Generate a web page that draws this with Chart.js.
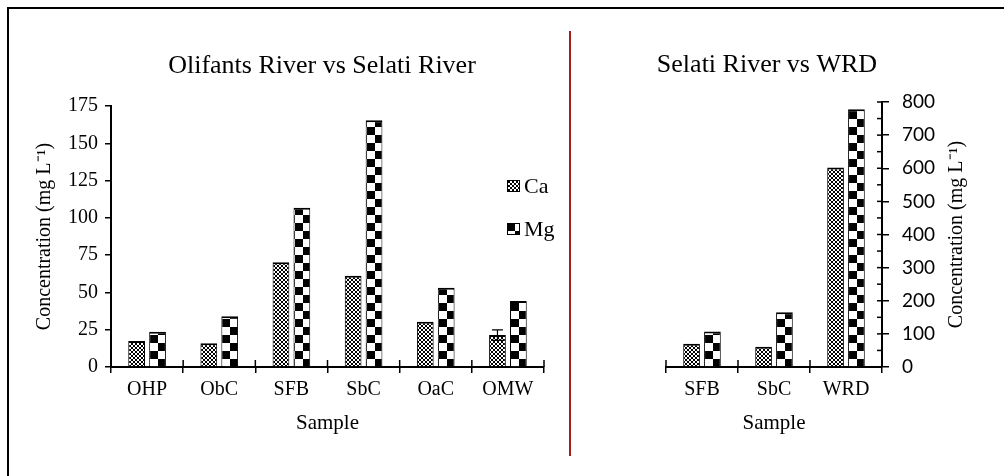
<!DOCTYPE html>
<html>
<head>
<meta charset="utf-8">
<script src="https://cdn.jsdelivr.net/npm/chart.js@4.4.1/dist/chart.umd.min.js"></script>
<style>
html,body{margin:0;padding:0;background:#fff;overflow:hidden}
#page{position:relative;width:1004px;height:476px;overflow:hidden;background:#fff}
#frame{position:absolute;left:7px;top:7px;width:1100px;height:600px;border-top:2px solid #000;border-left:2px solid #000}
#divider{position:absolute;left:569px;top:31px;width:2px;height:425px;background:#a31f1f}
#leftChart{position:absolute;left:0;top:0}
#rightChart{position:absolute;left:570px;top:0}
</style>
</head>
<body>
<div id="page">
<div id="frame"></div>
<canvas id="leftChart" width="570" height="476"></canvas>
<canvas id="rightChart" width="434" height="476"></canvas>
<div id="divider"></div>
</div>
<script>
const serif = "'Liberation Serif', 'Times New Roman', serif"
const sans = "Lato, 'Open Sans', sans-serif"

// left panel: Olifants River vs Selati River
const leftSamples = ["OHP", "ObC", "SFB", "SbC", "OaC", "OMW"]
const leftCa = [17.4, 16.0, 70.2, 61.2, 30.4, 21.4]
const leftMg = [23.6, 34.0, 106.8, 165.5, 53.2, 44.2]
const leftCaErr = [0, 0, 0, 0, 0, 3.5]
const leftMgErr = [0, 0, 0, 0, 0, 0]
const leftTicks = [0, 25, 50, 75, 100, 125, 150, 175]

// right panel: Selati River vs WRD
const rightSamples = ["SFB", "SbC", "WRD"]
const rightCa = [70.2, 61.2, 602]
const rightMg = [106.8, 165.5, 778]
const rightTicks = [0, 100, 200, 300, 400, 500, 600, 700, 800]
const rightMinorTicks = [50, 150, 250, 350, 450, 550, 650, 750]

const yTitle = "Concentration (mg L\u207B\u00B9)"

// fill patterns
function makeCaTile(){
let c = document.createElement("canvas")
c.width = 4
c.height = 4
let g = c.getContext("2d")
g.fillStyle = "#fff"
g.fillRect(0, 0, 4, 4)
g.fillStyle = "#000"
let dots = [[0,0],[1,1],[2,2],[3,3],[3,0],[2,1],[1,2],[0,3]]
dots.forEach(function(d){ g.fillRect(d[0], d[1], 1, 1) })
return c
}

function makeMgTile(){
let c = document.createElement("canvas")
c.width = 16
c.height = 16
let g = c.getContext("2d")
g.fillStyle = "#fff"
g.fillRect(0, 0, 16, 16)
g.fillStyle = "#000"
g.fillRect(0, 0, 8, 8)
g.fillRect(8, 8, 8, 8)
return c
}

const caTile = makeCaTile()
const mgTile = makeMgTile()

const catPct = 0.58
const barPct = 0.8

function caFill(context){
return context.chart.ctx.createPattern(caTile, "repeat")
}

function mgFill(context){
let chart = context.chart
let p = chart.ctx.createPattern(mgTile, "repeat")
let x = chart.scales.x
if(!x || context.dataIndex === undefined || !chart.chartArea) return p
let slot = (x.width / x.ticks.length) * catPct / 2
let left = x.getPixelForValue(context.dataIndex) + slot * (1 - barPct) / 2
p.setTransform(new DOMMatrix().translate(Math.round(left) + 1, chart.chartArea.bottom))
return p
}

const extras = {
id: "extras",
afterDatasetsDraw(chart, args, opts){
let ctx = chart.ctx
let y = chart.scales[opts.yId]
ctx.save()
ctx.strokeStyle = "#000"
ctx.lineWidth = 1.2
chart.data.datasets.forEach(function(ds, di){
if(!ds.errors) return
let meta = chart.getDatasetMeta(di)
ds.errors.forEach(function(err, i){
if(!err) return
let bx = meta.data[i].x
let y1 = y.getPixelForValue(ds.data[i] + err)
let y2 = y.getPixelForValue(ds.data[i] - err)
ctx.beginPath()
ctx.moveTo(bx, y1); ctx.lineTo(bx, y2)
ctx.moveTo(bx - 5.5, y1); ctx.lineTo(bx + 5.5, y1)
ctx.moveTo(bx - 5.5, y2); ctx.lineTo(bx + 5.5, y2)
ctx.stroke()
})
})
ctx.restore()
},
afterDraw(chart, args, opts){
let ctx = chart.ctx
let x = chart.scales.x
let area = chart.chartArea
ctx.save()
ctx.strokeStyle = "#000"
ctx.lineWidth = 1.5

// category boundary ticks also reach up into the plot
for(let i = 0; i <= x.ticks.length; i++){
let px = x.getPixelForValue(i - 0.5)
ctx.beginPath()
ctx.moveTo(px, area.bottom)
ctx.lineTo(px, area.bottom - 7)
ctx.stroke()
}

// inner ticks on the right hand axis
if(opts.innerTicks){
let y = chart.scales[opts.yId]
opts.innerTicks.forEach(function(v){
let py = y.getPixelForValue(v)
ctx.beginPath()
ctx.moveTo(area.right, py)
ctx.lineTo(area.right - 5, py)
ctx.stroke()
})
}

ctx.fillStyle = "#000"
ctx.textAlign = "center"
ctx.textBaseline = "middle"
ctx.font = "26px " + serif
ctx.fillText(opts.title, opts.titleX, opts.titleY)

if(opts.sideTitle){
ctx.save()
ctx.translate(opts.sideX, (area.top + area.bottom) / 2)
ctx.rotate(-Math.PI / 2)
ctx.font = "20px " + serif
ctx.fillText(opts.sideTitle, 0, 0)
ctx.restore()
}

if(opts.legend){
ctx.font = "22px " + serif
ctx.textAlign = "left"
chart.data.datasets.forEach(function(ds, di){
let lx = opts.legendX
let ly = opts.legendY + di * 43
let p = ctx.createPattern(di === 0 ? caTile : mgTile, "repeat")
p.setTransform(new DOMMatrix().translate(lx, ly))
ctx.fillStyle = p
ctx.fillRect(lx, ly, 13, 12)
ctx.lineWidth = 1
ctx.strokeRect(lx + 0.5, ly + 0.5, 12, 11)
ctx.fillStyle = "#000"
ctx.fillText(ds.label, lx + 17, ly + 7)
})
}
ctx.restore()
}
}

function xAxis(labels){
return {
type: "category",
labels: labels,
grid: {offset: true, drawOnChartArea: false, drawTicks: true, tickLength: 6, color: "#000", lineWidth: 1.5},
border: {color: "#000", width: 2},
ticks: {color: "#000", font: {family: serif, size: 20}, padding: 5},
title: {display: true, text: "Sample", color: "#000", font: {family: serif, size: 21}, padding: 0},
afterFit: function(s){ s.height = 69 }
}
}

function barSet(label, values, fill, errors){
return {
label: label,
data: values,
backgroundColor: fill,
borderColor: "#000",
borderWidth: {top: 2, left: 1, right: 1, bottom: 0},
errors: errors,
categoryPercentage: catPct,
barPercentage: barPct
}
}

new Chart(document.getElementById("leftChart"), {
type: "bar",
data: {
labels: leftSamples,
datasets: [
barSet("Ca", leftCa, caFill, leftCaErr),
barSet("Mg", leftMg, mgFill, leftMgErr)
]
},
options: {
responsive: false,
animation: false,
layout: {padding: {top: 106, left: 33, right: 26, bottom: 40}},
plugins: {
legend: {display: false},
tooltip: {enabled: false},
extras: {yId: "y", title: "Olifants River vs Selati River", titleX: 322, titleY: 66, legend: true, legendX: 507, legendY: 180}
},
scales: {
x: xAxis(leftSamples),
y: {
position: "left",
min: 0,
max: 175,
afterBuildTicks: function(s){ s.ticks = leftTicks.map(function(v){ return {value: v} }) },
grid: {drawOnChartArea: false, drawTicks: true, tickLength: 6, color: "#000", lineWidth: 1.5},
border: {color: "#000", width: 2},
ticks: {color: "#000", font: {family: serif, size: 20}, padding: 7},
title: {display: true, text: yTitle, color: "#000", font: {family: serif, size: 20}, padding: 0},
afterFit: function(s){ s.width = 78 }
}
}
},
plugins: [extras]
})

new Chart(document.getElementById("rightChart"), {
type: "bar",
data: {
labels: rightSamples,
datasets: [
barSet("Ca", rightCa, caFill, null),
barSet("Mg", rightMg, mgFill, null)
]
},
options: {
responsive: false,
animation: false,
layout: {padding: {top: 102, left: 96, right: 0, bottom: 40}},
plugins: {
legend: {display: false},
tooltip: {enabled: false},
extras: {yId: "y", title: "Selati River vs WRD", titleX: 197, titleY: 65, sideTitle: yTitle, sideX: 387, innerTicks: rightTicks.concat(rightMinorTicks)}
},
scales: {
x: xAxis(rightSamples),
y: {
position: "right",
min: 0,
max: 800,
afterBuildTicks: function(s){ s.ticks = rightTicks.map(function(v){ return {value: v} }) },
grid: {drawOnChartArea: false, drawTicks: true, tickLength: 7, color: "#000", lineWidth: 1.5},
border: {color: "#000", width: 2},
ticks: {color: "#000", font: {family: sans, size: 19}, padding: 13},
afterFit: function(s){ s.width = 122 }
}
}
},
plugins: [extras]
})
</script>
</body>
</html>
